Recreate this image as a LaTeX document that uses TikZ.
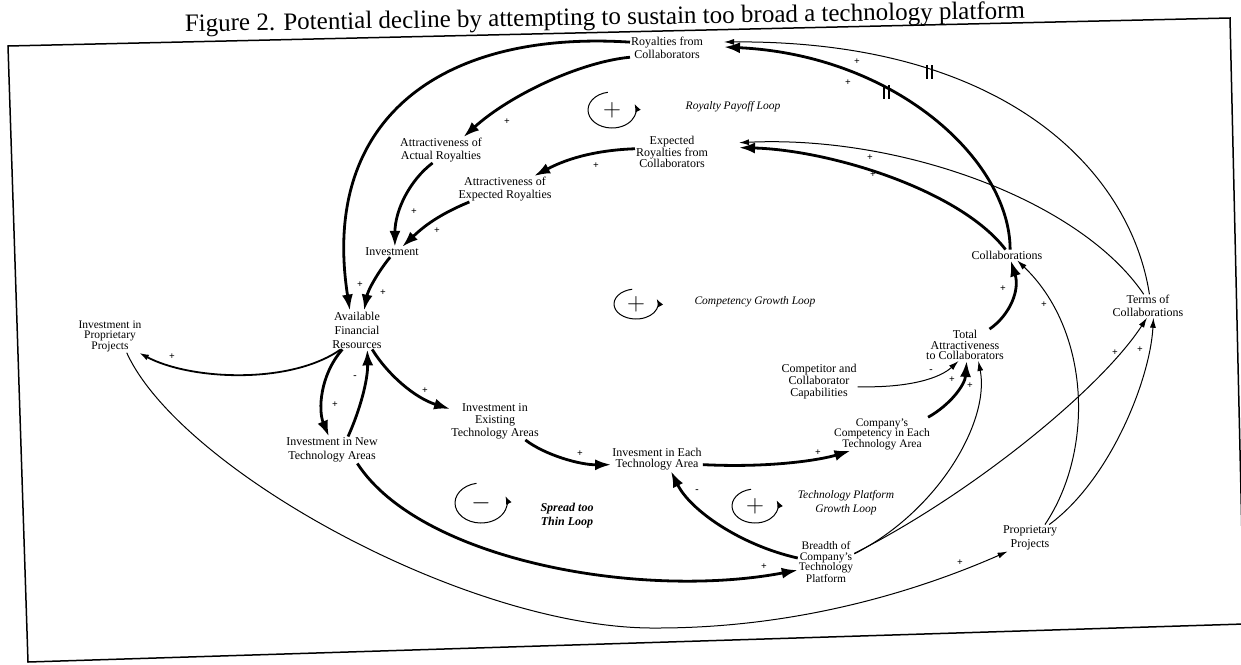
\documentclass[tikz,border=0pt]{standalone}
\usepackage{fontspec}
\setmainfont{Liberation Serif}
\usetikzlibrary{arrows.meta}

\begin{document}
\begin{tikzpicture}[x=1pt, y=-1pt,
  var/.style={align=center, inner sep=1pt, font=\fontsize{12}{12.5}\selectfont},
  cramped/.style={var, font=\fontsize{11.5}{10.5}\selectfont},
  loopname/.style={align=center, inner sep=1pt, font=\fontsize{11.5}{14}\selectfont\itshape},
  loopsign/.style={inner sep=0pt, font=\fontsize{40}{40}\selectfont},
  looparc/.style={line width=1pt, -{Latex[length=8pt,width=6pt]}},
  pol/.style={inner sep=0pt, font=\fontsize{10}{10}\selectfont\bfseries},
  strong/.style={line width=2.8pt, -{Latex[length=16pt,width=11pt]}},
  weak/.style={line width=1pt, -{Latex[length=10pt,width=6pt]}},
  delaymark/.style={line width=1.5pt}]
\useasboundingbox (0,0) rectangle (1241,664);
\draw[line width=1.5pt] (8,46) -- (1230,18) -- (1244,624) -- (28,662) -- cycle;
\node[font=\fontsize{25}{26}\selectfont, rotate=0.9, anchor=base] (title) at (605,25) {Figure 2. Potential decline by attempting to sustain too broad a technology platform};

\node[var] (roy) at (667,48) {Royalties from\\Collaborators};
\node[var] (aar) at (441,150) {Attractiveness of\\Actual Royalties};
\node[var, font=\fontsize{12}{11.5}\selectfont] (exr) at (672,152) {Expected\\Royalties from\\Collaborators};
\node[var] (aer) at (505,189) {Attractiveness of\\Expected Royalties};
\node[var] (inv) at (392,252) {Investment};
\node[var, font=\fontsize{12}{14}\selectfont] (afr) at (357,330) {Available\\Financial\\Resources};
\node[cramped] (ipp) at (110,336) {Investment in\\Proprietary\\Projects};
\node[var, font=\fontsize{12}{14}\selectfont] (int) at (332,450) {Investment in New\\Technology Areas};
\node[var] (iex) at (495,421) {Investment in\\Existing\\Technology Areas};
\node[var, font=\fontsize{12}{11}\selectfont] (iea) at (657,459) {Invesment in Each\\Technology Area};
\node[cramped] (ccy) at (882,434) {Company's\\Competency in Each\\Technology Area};
\node[var, font=\fontsize{12}{12}\selectfont] (cmp) at (819,382) {Competitor and\\Collaborator\\Capabilities};
\node[var, font=\fontsize{12}{10.5}\selectfont] (tac) at (965,345) {Total\\Attractiveness\\to Collaborators};
\node[var] (col) at (1007,255) {Collaborations};
\node[var] (toc) at (1148,306) {Terms of\\Collaborations};
\node[var, font=\fontsize{12}{14}\selectfont] (prp) at (1030,538) {Proprietary\\Projects};
\node[cramped] (bct) at (826,562) {Breadth of\\Company's\\Technology\\Platform};

\node[loopname] (rpl) at (733,107) {Royalty Payoff Loop};
\node[loopname] (cgl) at (755,302) {Competency Growth Loop};
\node[loopname, font=\fontsize{12}{14}\selectfont\bfseries\itshape] (stl) at (567,516) {Spread too\\Thin Loop};
\node[loopname] (tpl) at (846,503) {Technology Platform\\Growth Loop};

\node[loopsign] (lsa) at (612,110) {$+$};
\node[loopsign] (lsb) at (636,304) {$+$};
\node[loopsign] (lsc) at (481,503) {$-$};
\node[loopsign] (lsd) at (755,506) {$+$};
\draw[looparc] (lsa.center) ++(-100:24 and 18) arc[start angle=-100, end angle=-380, x radius=24, y radius=18];
\draw[looparc] (lsb.center) ++(-100:22 and 15) arc[start angle=-100, end angle=-380, x radius=22, y radius=15];
\draw[looparc] (lsc.center) ++(-100:26 and 20) arc[start angle=-100, end angle=-380, x radius=26, y radius=20];
\draw[looparc] (lsd.center) ++(-100:23 and 17) arc[start angle=-100, end angle=-380, x radius=23, y radius=17];

\draw[strong] (roy.171) .. controls (440,30) and (320,120) .. (afr.110);
\draw[strong] (roy.194) .. controls (580,62) and (510,95) .. (aar.30);
\draw[strong] (exr.175) .. controls (600,150) and (570,157) .. (aer.24);
\draw[strong] (aar.237) .. controls (410,180) and (395,210) .. (inv.61);
\draw[strong] (aer.200) .. controls (435,216) and (420,230) .. (inv.27);
\draw[strong] (inv.250) .. controls (378,272) and (368,290) .. (afr.70);
\draw[strong] (afr.233) .. controls (320,375) and (318,410) .. (int.103);
\draw[strong] (int.40) .. controls (360,410) and (368,380) .. (afr.-62);
\draw[strong] (afr.-52) .. controls (388,375) and (415,398) .. (iex.165);
\draw[strong] (iex.-32) .. controls (545,455) and (580,465) .. (iea.187);
\draw[strong] (iea.-7) .. controls (770,468) and (820,460) .. (ccy.208);
\draw[strong] (ccy.20) .. controls (950,405) and (965,385) .. (tac.-84);
\draw[strong] (tac.33) .. controls (1010,315) and (1020,290) .. (col.-56);
\draw[strong, shorten >=20pt] (col.60) .. controls (1010,160) and (895,55) .. coordinate[pos=0.62] (dlya) (roy.3);
\draw[strong, shorten >=30pt] (col.105) .. controls (960,190) and (830,150) .. (exr.8);
\draw[strong] (int.-28) .. controls (420,560) and (640,600) .. (bct.196);
\draw[strong] (bct.172) .. controls (740,545) and (690,510) .. (iea.-41);
\draw[weak, shorten >=20pt] (toc.83) .. controls (1130,170) and (1005,40) .. coordinate[pos=0.7] (dlyb) (roy.9);
\draw[weak, shorten >=30pt] (toc.110) .. controls (1080,200) and (900,135) .. (exr.12);
\draw[weak] (bct.16) .. controls (940,510) and (990,420) .. (tac.-50);
\draw[weak] (bct.17) .. controls (970,495) and (1100,390) .. (toc.-95);
\draw[weak] (prp.42) .. controls (1095,450) and (1090,330) .. (col.-28);
\draw[weak] (prp.35) .. controls (1110,480) and (1150,380) .. (toc.-65);
\draw[weak] (cmp.-7) .. controls (910,388) and (940,378) .. (tac.-112);
\draw[weak, line width=1.8pt] (afr.230) .. controls (290,385) and (190,380) .. (ipp.-30);
\draw[weak] (ipp.-45) .. controls (180,470) and (470,630) .. (657,628) .. controls (800,628) and (920,590) .. (prp.211);

\foreach \d in {dlya, dlyb}
  \draw[delaymark] ([shift={(-2.5,-7)}]\d) -- ([shift={(-2.5,7)}]\d) ([shift={(2.5,-7)}]\d) -- ([shift={(2.5,7)}]\d);

\foreach \px/\py/\s [count=\i] in {360/285/+, 507/122/+, 596/166/+, 414/212/+, 437/231/+, 383/293/+, 335/405/+, 355/377/-, 425/391/+, 580/454/+, 818/453/+, 952/380/+, 970/386/+, 1003/289/+, 1044/305/+, 1115/353/+, 1140/350/+, 931/371/-, 848/83/+, 857/62/+, 873/175/+, 870/158/+, 172/357/+, 960/563/+, 764/567/+, 697/491/-}
  \node[pol] (pl\i) at (\px,\py) {\s};
\end{tikzpicture}
\end{document}
